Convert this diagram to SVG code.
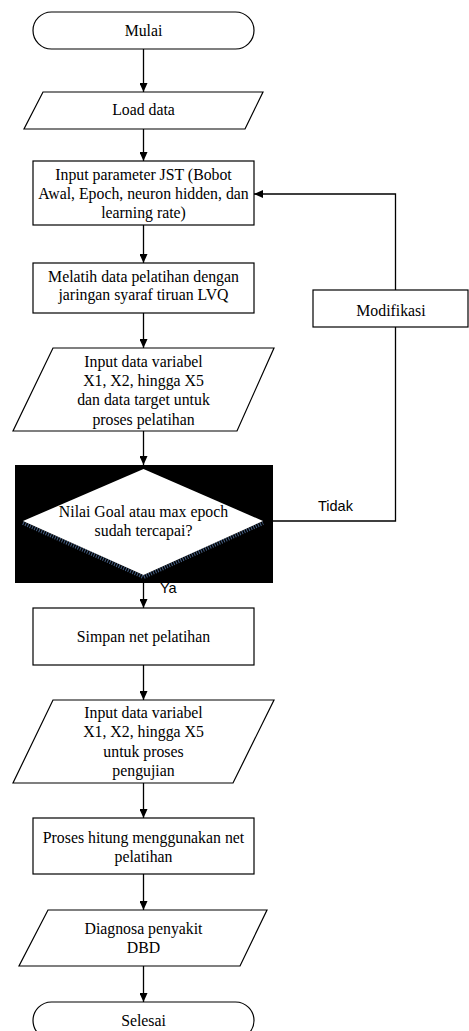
<svg xmlns="http://www.w3.org/2000/svg" width="469" height="1031" viewBox="0 0 469 1031">
<style>
.s{fill:#fff;stroke:#000;stroke-width:1.2}
.t{font-family:"Liberation Serif","Times New Roman",serif;font-size:15.8px;fill:#000;text-anchor:middle}
.a{font-family:"Liberation Sans",Arial,sans-serif;font-size:14.5px;fill:#000}
.c{fill:none;stroke:#000;stroke-width:1.3}
</style>
<defs>
<marker id="ah" markerWidth="9" markerHeight="8" refX="9" refY="4" orient="auto" markerUnits="userSpaceOnUse">
<path d="M0,0 L9,4 L0,8 Z" fill="#000"/>
</marker>
</defs>
<rect width="469" height="1031" fill="#fff"/>
<g id="connectors">
<line class="c" x1="143.5" y1="49" x2="143.5" y2="92" marker-end="url(#ah)"/>
<line class="c" x1="143.5" y1="129" x2="143.5" y2="161" marker-end="url(#ah)"/>
<line class="c" x1="143.5" y1="225" x2="143.5" y2="263" marker-end="url(#ah)"/>
<line class="c" x1="143.5" y1="313" x2="143.5" y2="348" marker-end="url(#ah)"/>
<line class="c" x1="143.5" y1="431" x2="143.5" y2="465" marker-end="url(#ah)"/>
<line class="c" x1="143.5" y1="583" x2="143.5" y2="608" marker-end="url(#ah)"/>
<line class="c" x1="143.5" y1="665" x2="143.5" y2="700" marker-end="url(#ah)"/>
<line class="c" x1="143.5" y1="783" x2="143.5" y2="818" marker-end="url(#ah)"/>
<line class="c" x1="143.5" y1="874" x2="143.5" y2="910" marker-end="url(#ah)"/>
<line class="c" x1="143.5" y1="966" x2="143.5" y2="1002" marker-end="url(#ah)"/>
<polyline class="c" points="273,521 395.5,521 395.5,327"/>
<polyline class="c" points="395.5,290 395.5,194 254,194" marker-end="url(#ah)"/>
<text class="a" x="318" y="511">Tidak</text>
<text class="a" x="160" y="593">Ya</text>
</g>
<g id="mulai">
<rect class="s" x="33" y="12" width="221" height="37" rx="18.5"/>
<text class="t" x="143.5" y="36">Mulai</text>
</g>
<g id="load">
<polygon class="s" points="43,92 263,92 245,129 24,129"/>
<text class="t" x="143.5" y="115">Load data</text>
</g>
<g id="param">
<rect class="s" x="33" y="161" width="221" height="64"/>
<text class="t" x="143.5" y="180">Input parameter JST (Bobot</text>
<text class="t" x="143.5" y="199">Awal, Epoch, neuron hidden, dan</text>
<text class="t" x="143.5" y="218">learning rate)</text>
</g>
<g id="melatih">
<rect class="s" x="33" y="263" width="221" height="50"/>
<text class="t" x="143.5" y="282">Melatih data pelatihan dengan</text>
<text class="t" x="143.5" y="300">jaringan syaraf tiruan LVQ</text>
</g>
<g id="modifikasi">
<rect class="s" x="313" y="290" width="155" height="37"/>
<text class="t" x="391" y="316">Modifikasi</text>
</g>
<g id="input1">
<polygon class="s" points="53,348 274,348 237,431 13,431"/>
<text class="t" x="143.5" y="367">Input data variabel</text>
<text class="t" x="143.5" y="386">X1, X2, hingga X5</text>
<text class="t" x="143.5" y="405">dan data target untuk</text>
<text class="t" x="143.5" y="425">proses pelatihan</text>
</g>
<g id="decision">
<rect x="15" y="465" width="258" height="118" fill="#000"/>
<polyline points="23,523 143.5,577 263,523" fill="none" stroke="#5a7aa8" stroke-width="4" stroke-dasharray="1 1.5" opacity="0.8"/>
<polygon points="143.5,469 263,521 143.5,575 23,521" fill="#fff"/>
<text class="t" x="143.5" y="517">Nilai Goal atau max epoch</text>
<text class="t" x="143.5" y="536">sudah tercapai?</text>
</g>
<g id="simpan">
<rect class="s" x="33" y="608" width="221" height="57"/>
<text class="t" x="143.5" y="642">Simpan net pelatihan</text>
</g>
<g id="input2">
<polygon class="s" points="53,700 274,700 233,783 13,783"/>
<text class="t" x="143.5" y="718">Input data variabel</text>
<text class="t" x="143.5" y="737">X1, X2, hingga X5</text>
<text class="t" x="143.5" y="757">untuk proses</text>
<text class="t" x="143.5" y="776">pengujian</text>
</g>
<g id="proses">
<rect class="s" x="33" y="818" width="221" height="56"/>
<text class="t" x="143.5" y="843">Proses hitung menggunakan net</text>
<text class="t" x="143.5" y="862">pelatihan</text>
</g>
<g id="diagnosa">
<polygon class="s" points="48,910 267,910 240,966 19,966"/>
<text class="t" x="143.5" y="934">Diagnosa penyakit</text>
<text class="t" x="143.5" y="953">DBD</text>
</g>
<g id="selesai">
<rect class="s" x="33" y="1002" width="221" height="37" rx="18.5"/>
<text class="t" x="143.5" y="1026">Selesai</text>
</g>
</svg>
